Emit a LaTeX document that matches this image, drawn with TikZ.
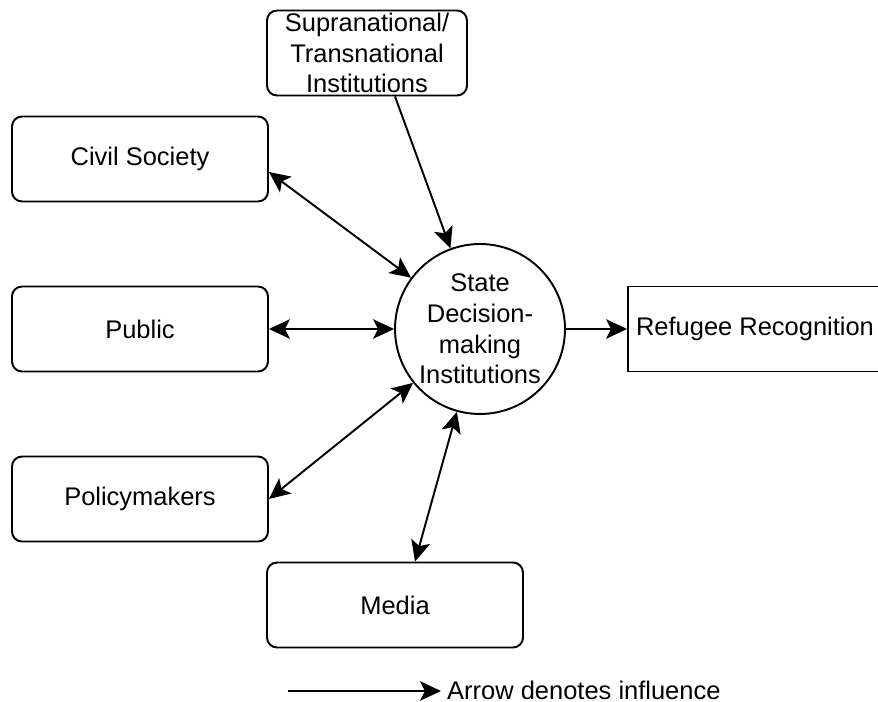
\documentclass[tikz,border=0pt]{standalone}
\usepackage{fontspec}
\setmainfont{Liberation Sans}
\usepackage{tikz}
\usetikzlibrary{positioning,arrows.meta}

\begin{document}
\begin{tikzpicture}[x=0.02cm, y=-0.02cm, every node/.style={font=\fontsize{14.5}{17.5}\selectfont, align=center},
  box/.style={draw, rounded corners=2mm, line width=1.1pt, minimum width=5.12cm, minimum height=1.7cm},
  tip/.style={-{Stealth[length=4.2mm, width=3.9mm, inset=1mm]}, line width=1.1pt},
  both/.style={{Stealth[length=4.2mm, width=3.9mm, inset=1mm]}-{Stealth[length=4.2mm, width=3.9mm, inset=1mm]}, line width=1.1pt}]
  \useasboundingbox (0,0) rectangle (878,702);
  \node[box, minimum width=4cm, inner ysep=0pt] (a) at (367,53) {Supranational/\\Transnational\\Institutions};
  \node[box] (b) at (140,159) {Civil Society};
  \node[box] (c) at (140,329) {Public};
  \node[box] (d) at (140,499) {Policymakers};
  \node[box] (e) at (395,605) {Media};
  \node[draw, circle, line width=1.1pt, minimum size=3.4cm, inner sep=0pt] (f) at (480,329) {State\\Decision-\\making\\Institutions};
  \node[draw, line width=1.1pt, minimum width=5.08cm, minimum height=1.7cm] (g) at (755,329) {Refugee Recognition};
  \node[anchor=west] (h) at (441,690) {Arrow denotes influence};
  \coordinate (l) at (288,691);
  \draw[tip] ([xshift=0.56cm]a.south) -- (f);
  \draw[both] ([yshift=-0.26cm]b.east) -- (f);
  \draw[both] (c) -- (f);
  \draw[both] (d.east) -- (f);
  \draw[both] ([xshift=0.4cm]e.north) -- (f);
  \draw[tip] (f) -- (g);
  \draw[tip] (l) -- (l -| h.west);
\end{tikzpicture}
\end{document}
